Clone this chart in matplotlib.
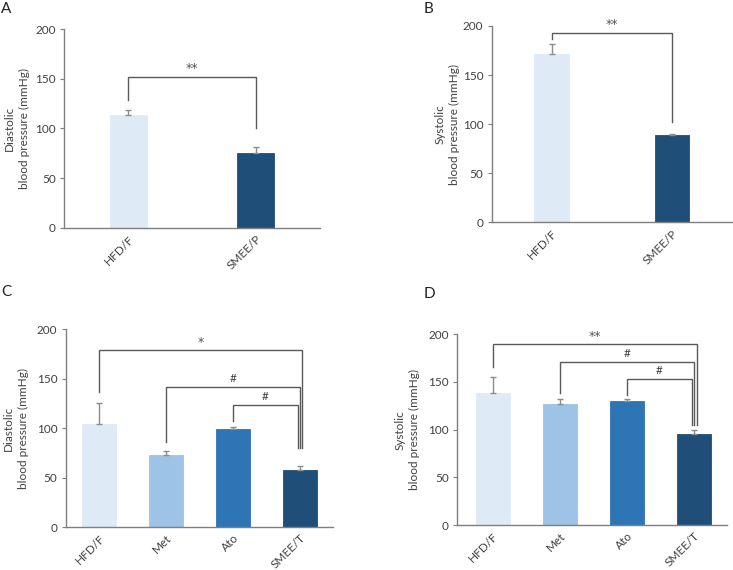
import matplotlib
matplotlib.use("Agg")
import matplotlib.pyplot as plt
import numpy as np

plt.rcParams['font.family'] = ['Lato', 'DejaVu Sans']

# ---- data ----
cats_two = ["HFD/F", "SMEE/P"]
cats_four = ["HFD/F", "Met", "Ato", "SMEE/T"]

dia_two = [113.6, 75.4]
dia_two_err = [5.1, 6.0]
sys_two = [171.2, 88.6]
sys_two_err = [10.1, 1.7]

dia_four = [104.2, 72.8, 98.8, 57.4]
dia_four_err = [21.5, 4.1, 2.1, 4.0]
sys_four = [138.4, 126.5, 130.4, 95.7]
sys_four_err = [17.1, 5.6, 1.7, 3.6]

yticks = [0, 50, 100, 150, 200]

colors_two = ["#DEEBF7", "#1F4E79"]
colors_four = ["#DEEBF7", "#9DC3E6", "#2E75B6", "#1F4E79"]

# brackets: (left idx, right idx, bar y, left leg end, right leg end, label, right x offset)
br_A = [(0, 1, 152.3, 128.8, 100.2, "**", 0.0)]
br_B = [(0, 1, 193.2, 186.3, 102.5, "**", 0.0)]
br_C = [(0, 3, 179.0, 136.9, 79.6, "*", 0.032),
        (1, 3, 141.9, 86.3, 79.6, "#", 0.007),
        (2, 3, 123.4, 107.5, 79.6, "#", -0.027)]
br_D = [(0, 3, 189.8, 166.0, 104.9, "**", 0.042),
        (1, 3, 170.6, 138.7, 104.9, "#", 0.007),
        (2, 3, 152.8, 136.2, 104.9, "#", -0.027)]

W, H = 733, 570
fig = plt.figure(figsize=(W / 100, H / 100), dpi=100)

SPINE = "#7f7f7f"
LINE = "#595959"
TXT = "#404040"
FS = 8.5


def panel(rect, cats, vals, errs, colors, width, xlim, ylabel, brackets, letter, letter_xy):
    ax = fig.add_axes(rect)
    x = np.arange(len(cats))
    ax.bar(x, vals, width=width, color=colors, edgecolor=colors, linewidth=0.6, zorder=2)
    ax.errorbar(x, vals, yerr=[np.zeros(len(errs)), errs], fmt='none',
                ecolor="#8c8c8c", elinewidth=1.0, capsize=2.0, capthick=1.0, zorder=3)
    ax.set_xlim(*xlim)
    ax.set_ylim(0, 200)
    ax.set_yticks(yticks)
    ax.set_yticklabels([str(t) for t in yticks], fontsize=FS, color=TXT)
    ax.set_xticks(x)
    ax.set_xticklabels(cats, rotation=45, ha='right', va='top', rotation_mode='anchor',
                       fontsize=FS, color=TXT)
    for s in ("top", "right"):
        ax.spines[s].set_visible(False)
    for s in ("left", "bottom"):
        ax.spines[s].set_color(SPINE)
        ax.spines[s].set_linewidth(1.0)
    ax.tick_params(axis='y', length=3, width=0.8, color=SPINE, pad=3)
    ax.tick_params(axis='x', length=0, pad=4)
    ax.text(-0.185, 0.5, ylabel, transform=ax.transAxes, rotation=90,
            ha='center', va='center', fontsize=FS, color=TXT, linespacing=1.4)
    for (i, j, yb, yl, yr, lab, off) in brackets:
        xr = j + off
        ax.plot([i, i, xr, xr], [yl, yb, yb, yr], color=LINE, lw=1.0, zorder=4,
                solid_joinstyle='miter', clip_on=False)
        if "*" in lab:
            ax.text((i + xr) / 2, yb + 1.5, lab, ha='center', va='bottom', fontsize=9,
                    color="#555555", clip_on=False, family='DejaVu Sans')
        else:
            ax.text((i + xr) / 2, yb + 3, lab, ha='center', va='bottom', fontsize=FS,
                    color=TXT, clip_on=False)
    fig.text(letter_xy[0] / W, 1 - letter_xy[1] / H, letter, fontsize=11,
             color="#222222", ha='left', va='top')
    return ax


panel([64.3 / W, 1 - 227.7 / H, 255.4 / W, 198.4 / H], cats_two, dia_two, dia_two_err,
      colors_two, 0.29, (-0.5, 1.5), "Diastolic\nblood pressure (mmHg)", br_A, "A", (1, 2))
panel([491.7 / W, 1 - 222.3 / H, 240.4 / W, 196.3 / H], cats_two, sys_two, sys_two_err,
      colors_two, 0.29, (-0.5, 1.5), "Systolic\nblood pressure (mmHg)", br_B, "B", (424, 2))
panel([65.7 / W, 1 - 527.0 / H, 267.7 / W, 197.7 / H], cats_four, dia_four, dia_four_err,
      colors_four, 0.5, (-0.5, 3.5), "Diastolic\nblood pressure (mmHg)", br_C, "C", (1, 285))
panel([457.3 / W, 1 - 525.0 / H, 269.3 / W, 190.7 / H], cats_four, sys_four, sys_four_err,
      colors_four, 0.5, (-0.53, 3.49), "Systolic\nblood pressure (mmHg)", br_D, "D", (424, 287))

fig.savefig("out.png", dpi=100)
